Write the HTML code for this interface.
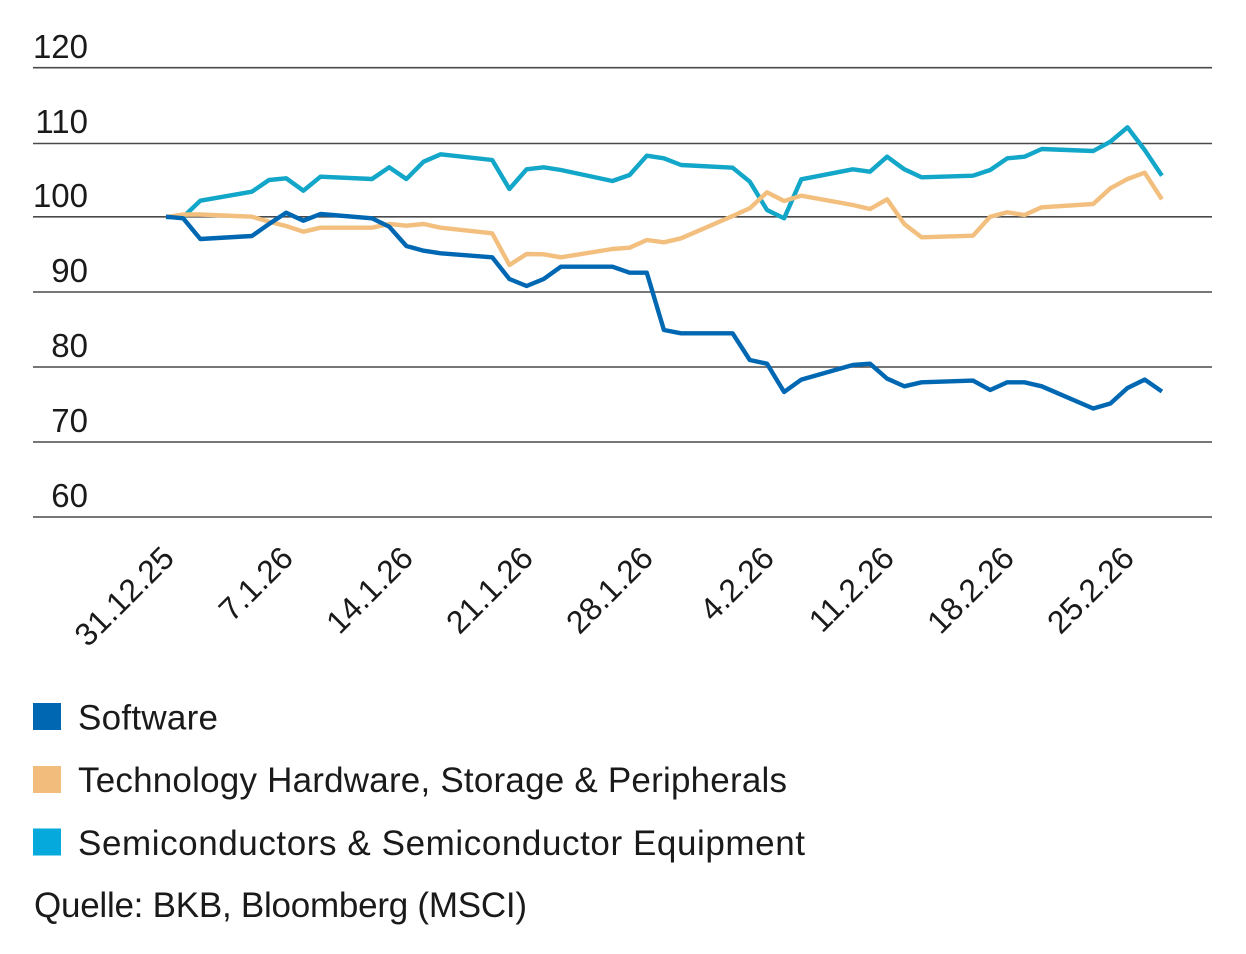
<!DOCTYPE html>
<html>
<head>
<meta charset="utf-8">
<style>
  html, body { margin: 0; padding: 0; background: #ffffff; }
  body { width: 1246px; height: 954px; overflow: hidden; }
  svg { display: block; }
  text { font-family: "Liberation Sans", "DejaVu Sans", sans-serif; fill: #1a1a1a; }
</style>
</head>
<body>
<svg width="1246" height="954" viewBox="0 0 1246 954" xmlns="http://www.w3.org/2000/svg">
  <!-- gridlines -->
  <g stroke="#4a4a4a" stroke-width="1.6">
    <line x1="33" y1="67.7" x2="1212" y2="67.7"/>
    <line x1="33" y1="143.5" x2="1212" y2="143.5"/>
    <line x1="33" y1="216.8" x2="1212" y2="216.8"/>
    <line x1="33" y1="292" x2="1212" y2="292"/>
    <line x1="33" y1="367" x2="1212" y2="367"/>
    <line x1="33" y1="442" x2="1212" y2="442"/>
    <line x1="33" y1="517" x2="1212" y2="517"/>
  </g>
  <!-- y labels -->
  <g font-size="33" text-anchor="end">
    <text x="88" y="58">120</text>
    <text x="88" y="133">110</text>
    <text x="88" y="207">100</text>
    <text x="88" y="282">90</text>
    <text x="88" y="357">80</text>
    <text x="88" y="432">70</text>
    <text x="88" y="507">60</text>
  </g>
  <!-- x labels -->
  <g font-size="32" text-anchor="end">
    <text transform="translate(176,560) rotate(-45)">31.12.25</text>
    <text transform="translate(295,560) rotate(-45)">7.1.26</text>
    <text transform="translate(415,560) rotate(-45)">14.1.26</text>
    <text transform="translate(535,560) rotate(-45)">21.1.26</text>
    <text transform="translate(655,560) rotate(-45)">28.1.26</text>
    <text transform="translate(776,560) rotate(-45)">4.2.26</text>
    <text transform="translate(896,560) rotate(-45)">11.2.26</text>
    <text transform="translate(1016,560) rotate(-45)">18.2.26</text>
    <text transform="translate(1136,560) rotate(-45)">25.2.26</text>
  </g>
  <!-- series -->
  <g fill="none" stroke-width="4.4" stroke-linejoin="round" stroke-linecap="butt">
    <polyline stroke="#12a6c8" points="166,217 183.2,217 200.3,200.7 251.9,191.7 269.0,180 286.2,178.3 303.4,190.7 320.5,176.7 372.0,179 389.2,167.3 406.4,179 423.6,161.7 440.7,154.3 492.2,160 509.4,189 526.6,169.3 543.7,167.3 560.9,170 612.4,181 629.6,175 646.8,155.7 663.9,158.3 681.1,165 732.6,167.7 749.8,181.7 767.0,210 784.1,218.3 801.3,179.3 852.8,169.3 870.0,171.7 887.1,156.7 904.3,169.3 921.5,177.3 973.0,175.7 990.2,170 1007.3,158.3 1024.5,156.7 1041.7,149 1093.2,151 1110.4,141.7 1127.5,127.3 1144.7,150 1161.9,175.7"/>
    <polyline stroke="#f2bf7e" points="166,217 183.2,214.5 200.3,214.5 251.9,216.7 269.0,221.7 286.2,226 303.4,231.7 320.5,227.7 372.0,227.7 389.2,224 406.4,225.7 423.6,224 440.7,227.7 492.2,233.3 509.4,265 526.6,254 543.7,254.3 560.9,257.3 612.4,249 629.6,247.7 646.8,240 663.9,242.3 681.1,238.3 732.6,216 749.8,208.3 767.0,192.3 784.1,201 801.3,195.7 852.8,205 870.0,209 887.1,199.3 904.3,224 921.5,237.3 973.0,235.7 990.2,216.7 1007.3,212.3 1024.5,215 1041.7,207.3 1093.2,204 1110.4,188.3 1127.5,179 1144.7,172.7 1161.9,199.3"/>
    <polyline stroke="#0068b3" points="166,216.7 183.2,218.3 200.3,239 251.9,236 269.0,224 286.2,212.7 303.4,220.7 320.5,214 372.0,218.3 389.2,226.7 406.4,246 423.6,250.7 440.7,253.3 492.2,257.3 509.4,279 526.6,286 543.7,279 560.9,266.7 612.4,266.7 629.6,272.7 646.8,272.7 663.9,330 681.1,333.3 732.6,333.3 749.8,360 767.0,363.7 784.1,392 801.3,379.6 852.8,365 870.0,363.7 887.1,378.6 904.3,386.3 921.5,382.3 973.0,380.6 990.2,390 1007.3,382.3 1024.5,382.3 1041.7,386.3 1093.2,408.5 1110.4,403.5 1127.5,388 1144.7,379.6 1161.9,391.5"/>
  </g>
  <!-- legend -->
  <rect x="33" y="703" width="28" height="27" fill="#0068b3"/>
  <rect x="33" y="766" width="28" height="27" fill="#f2bd7c"/>
  <rect x="33" y="828.5" width="28" height="27" fill="#06a9dc"/>
  <g font-size="35">
    <text x="78" y="729.5" textLength="140" lengthAdjust="spacing">Software</text>
    <text x="78" y="792" textLength="709" lengthAdjust="spacing">Technology Hardware, Storage &amp; Peripherals</text>
    <text x="78" y="855" textLength="727" lengthAdjust="spacing">Semiconductors &amp; Semiconductor Equipment</text>
    <text x="34" y="917" textLength="493" lengthAdjust="spacing">Quelle: BKB, Bloomberg (MSCI)</text>
  </g>
</svg>
</body>
</html>
